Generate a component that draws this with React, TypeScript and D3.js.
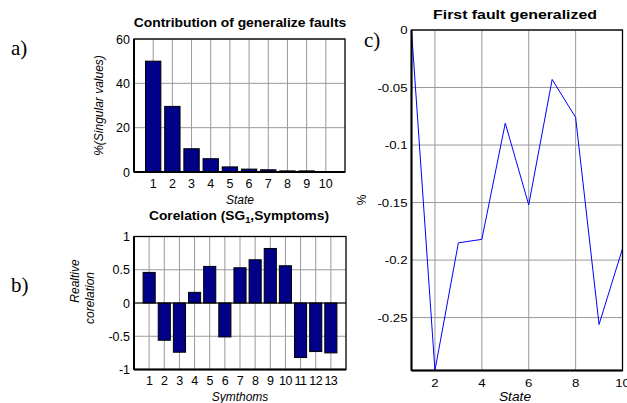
import React from "react";
import * as d3 from "d3";

// a) contribution of generalized faults (singular values, %)
const statesA = [1, 2, 3, 4, 5, 6, 7, 8, 9, 10];
const contribA = [50, 29.6, 10.5, 6, 2.3, 1.3, 1, 0.5, 0.5, 0.2];
const yTicksA = [0, 20, 40, 60];

// b) correlation of SG1 with symptoms
const symptomsB = [1, 2, 3, 4, 5, 6, 7, 8, 9, 10, 11, 12, 13];
const corrB = [0.46, -0.56, -0.74, 0.16, 0.55, -0.51, 0.53, 0.65, 0.82, 0.56, -0.82, -0.73, -0.75];
const yTicksB = [-1, -0.5, 0, 0.5, 1];

// c) first fault generalized
const statesC = [1, 2, 3, 4, 5, 6, 7, 8, 9, 10];
const faultC = [0, -0.296, -0.185, -0.182, -0.081, -0.152, -0.043, -0.076, -0.256, -0.19];
const xTicksC = [2, 4, 6, 8, 10];
const yTicksC = [0, -0.05, -0.1, -0.15, -0.2, -0.25];

const font = "Liberation Sans, Arial, sans-serif";
const barFill = "#000088";
const gridCol = "#9a9a9a";

// text stretched horizontally (the figure panels were scaled when exported)
const T = ({ x, y, sx = 1, children, ...rest }: any) => (
  <text transform={`translate(${x},${y}) scale(${sx},1)`} {...rest}>
    {children}
  </text>
);

const Frame = ({ x0, x1, y0, y1 }: { x0: number; x1: number; y0: number; y1: number }) => (
  <g>
    <rect x={x0} y={y0} width={x1 - x0} height={y1 - y0} fill="none" stroke="#000" strokeWidth={1.3} />
    <line x1={x0} x2={x1} y1={y1} y2={y1} stroke="#000" strokeWidth={2} />
    <line x1={x0} x2={x0} y1={y0} y2={y1} stroke="#000" strokeWidth={2} />
  </g>
);

const App = () => {
  // ---- chart a
  const xa = d3.scaleLinear().domain([0, 11]).range([134, 345]);
  const ya = d3.scaleLinear().domain([0, 60]).range([172, 39]);
  const bwA = (xa(1) - xa(0)) * 0.8;

  // ---- chart b
  const xb = d3.scaleLinear().domain([0, 14]).range([134, 346]);
  const yb = d3.scaleLinear().domain([-1, 1]).range([369.5, 236.5]);
  const bwB = (xb(1) - xb(0)) * 0.8;

  // ---- chart c
  const xc = d3.scaleLinear().domain([1, 10]).range([411.5, 622.5]);
  const yc = d3.scaleLinear().domain([-0.296, 0]).range([370.5, 30]);
  const line = d3
    .line<number>()
    .x((_, i) => xc(statesC[i]))
    .y((d) => yc(d));

  const fmt = (v: number) => (v === 0 ? "0" : String(v));
  const tickFs = 12.5;

  return (
    <svg width={627} height={403} style={{ position: "absolute", left: 0, top: 0, background: "#fff" }} fontFamily={font}>
      {/* panel letters */}
      <g fontFamily="Liberation Serif, Times New Roman, serif" fontSize={21}>
        <text x={11} y={55}>a)</text>
        <text x={11} y={292}>b)</text>
        <text x={364} y={47}>c)</text>
      </g>

      {/* ===== a ===== */}
      <g>
        {yTicksA.map((t) => (
          <line key={"ga" + t} x1={xa(0)} x2={xa(11)} y1={ya(t)} y2={ya(t)} stroke={gridCol} strokeWidth={1} />
        ))}
        {statesA.map((s) => (
          <line key={"gva" + s} x1={xa(s)} x2={xa(s)} y1={ya(0)} y2={ya(60)} stroke={gridCol} strokeWidth={1} />
        ))}
        {contribA.map((v, i) => (
          <rect key={"ba" + i} x={xa(statesA[i]) - bwA / 2} y={ya(v)} width={bwA} height={ya(0) - ya(v)}
            fill={barFill} stroke="#000" strokeWidth={1} />
        ))}
        <Frame x0={xa(0)} x1={xa(11)} y0={ya(60)} y1={ya(0)} />
        {yTicksA.map((t) => (
          <text key={"ta" + t} x={xa(0) - 4} y={ya(t) + 4.5} fontSize={tickFs} textAnchor="end">{t}</text>
        ))}
        {statesA.map((s) => (
          <text key={"txa" + s} x={xa(s)} y={188} fontSize={tickFs} textAnchor="middle">{s}</text>
        ))}
        <T x={240} y={27} sx={1.11} fontSize={12.5} fontWeight="bold" textAnchor="middle">Contribution of generalize faults</T>
        <text x={240} y={204} fontSize={12} fontStyle="italic" textAnchor="middle">State</text>
        <text transform={`translate(103,${(ya(0) + ya(60)) / 2}) rotate(-90)`} fontSize={12} fontStyle="italic" textAnchor="middle">
          %(Singular values)
        </text>
      </g>

      {/* ===== b ===== */}
      <g>
        {yTicksB.map((t) => (
          <line key={"gb" + t} x1={xb(0)} x2={xb(14)} y1={yb(t)} y2={yb(t)} stroke={gridCol} strokeWidth={1} />
        ))}
        {symptomsB.map((s) => (
          <line key={"gvb" + s} x1={xb(s)} x2={xb(s)} y1={yb(-1)} y2={yb(1)} stroke={gridCol} strokeWidth={1} />
        ))}
        {corrB.map((v, i) => (
          <rect key={"bb" + i} x={xb(symptomsB[i]) - bwB / 2} y={yb(Math.max(0, v))} width={bwB}
            height={Math.abs(yb(v) - yb(0))} fill={barFill} stroke="#000" strokeWidth={1} />
        ))}
        <line x1={xb(0)} x2={xb(14)} y1={yb(0)} y2={yb(0)} stroke="#000" strokeWidth={1} />
        <Frame x0={xb(0)} x1={xb(14)} y0={yb(1)} y1={yb(-1)} />
        {yTicksB.map((t) => (
          <text key={"tb" + t} x={xb(0) - 4} y={yb(t) + 4.5} fontSize={tickFs} textAnchor="end">{fmt(t)}</text>
        ))}
        {symptomsB.map((s) => (
          <text key={"txb" + s} x={xb(s)} y={385} fontSize={tickFs} textAnchor="middle" letterSpacing={-0.5}>{s}</text>
        ))}
        <T x={239} y={220} sx={1.1} fontSize={12.5} fontWeight="bold" textAnchor="middle">
          Corelation (SG<tspan fontSize={8.5} dy={3}>1</tspan><tspan dy={-3}>,Symptoms)</tspan>
        </T>
        <text x={240} y={401} fontSize={12} fontStyle="italic" textAnchor="middle">Symthoms</text>
        <text transform={`translate(79,281) rotate(-90)`} fontSize={12} fontStyle="italic" textAnchor="middle">Realtive</text>
        <text transform={`translate(94,298) rotate(-90)`} fontSize={12} fontStyle="italic" textAnchor="middle">corelation</text>
      </g>

      {/* ===== c ===== */}
      <g>
        {yTicksC.map((t) => (
          <line key={"gc" + t} x1={xc(1)} x2={xc(10)} y1={yc(t)} y2={yc(t)} stroke={gridCol} strokeWidth={1} />
        ))}
        {xTicksC.map((s) => (
          <line key={"gvc" + s} x1={xc(s)} x2={xc(s)} y1={yc(-0.296)} y2={yc(0)} stroke={gridCol} strokeWidth={1} />
        ))}
        <path d={line(faultC) || ""} fill="none" stroke="#0000ff" strokeWidth={1} />
        <Frame x0={xc(1)} x1={xc(10)} y0={yc(0)} y1={yc(-0.296)} />
        {yTicksC.map((t) => (
          <T key={"tc" + t} x={xc(1) - 4} y={yc(t) + 4} sx={1.15} fontSize={11.5} textAnchor="end">{fmt(t)}</T>
        ))}
        {xTicksC.map((s) => (
          <T key={"txc" + s} x={xc(s)} y={387} sx={1.15} fontSize={11.5} textAnchor="middle">{s}</T>
        ))}
        <T x={515} y={19} sx={1.27} fontSize={12.5} fontWeight="bold" textAnchor="middle">First fault generalized</T>
        <T x={515} y={401} sx={1.15} fontSize={12} fontStyle="italic" textAnchor="middle">State</T>
        <text transform={`translate(366,200) rotate(-90)`} fontSize={12} textAnchor="middle">%</text>
      </g>
    </svg>
  );
};

export default App;
